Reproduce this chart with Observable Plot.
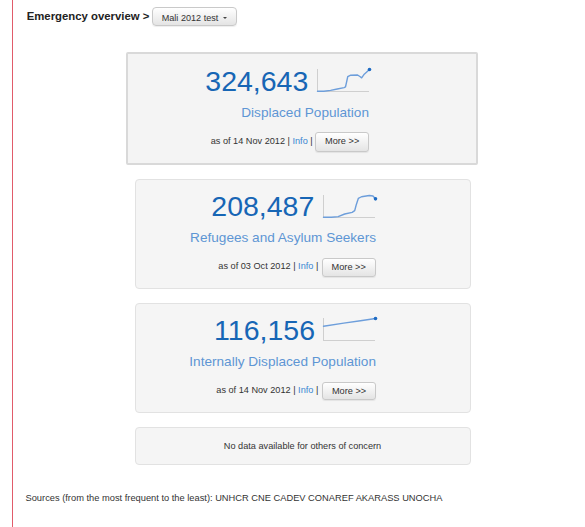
<!DOCTYPE html>
<html><head><meta charset="utf-8">
<script src="https://cdn.jsdelivr.net/npm/d3@7"></script>
<script src="https://cdn.jsdelivr.net/npm/@observablehq/plot@0.6"></script>
<style>
html,body{margin:0;padding:0;background:#fff;width:585px;height:527px;overflow:hidden;font-family:"Liberation Sans",Arial,sans-serif;}
#root{position:relative;width:585px;height:527px;}
.abs{position:absolute;white-space:nowrap;line-height:1;}
.box{position:absolute;box-sizing:border-box;background:#f5f5f5;border:1px solid #e2e2e2;border-radius:4px;}
.btn{position:absolute;box-sizing:border-box;border:1px solid #c9c9c9;border-radius:3px;background:linear-gradient(#ffffff,#e4e4e4);color:#333;text-align:center;box-shadow:0 1px 1px rgba(0,0,0,0.07);white-space:nowrap;}
.spark{position:absolute;}
</style></head><body><div id="root"></div>
<script>
// ---- data ----
const emergencyName = "Mali 2012 test";
const cardTitles = ["Displaced Population", "Refugees and Asylum Seekers", "Internally Displaced Population"];
const asOfDates = ["14 Nov 2012", "03 Oct 2012", "14 Nov 2012"];
const displacedDates = ["2012-03-01","2012-04-01","2012-05-05","2012-06-07","2012-07-11","2012-07-18","2012-07-29","2012-08-13","2012-09-16","2012-09-29","2012-10-06","2012-10-19","2012-11-14"];
const displacedValues = [3000, 4000, 16000, 36000, 58000, 68000, 218000, 240000, 244000, 218000, 201000, 256000, 324643];
const refugeeDates = ["2012-02-01","2012-03-09","2012-04-10","2012-05-11","2012-06-15","2012-06-27","2012-07-04","2012-07-14","2012-07-29","2012-09-04","2012-09-21","2012-10-03"];
const refugeeValues = [2000, 3000, 10000, 39000, 58000, 77000, 140000, 213000, 232000, 246000, 241000, 208487];
const idpDates = ["2012-04-20","2012-07-10","2012-09-15","2012-11-14"];
const idpValues = [75500, 92000, 104000, 116156];
const sources = ["UNHCR", "CNE", "CADEV", "CONAREF", "AKARASS", "UNOCHA"];
const noDataText = "No data available for others of concern";

// ---- helpers ----
const root = document.getElementById("root");
function add(cls, style, html) {
  const d = document.createElement("div");
  d.className = cls;
  d.setAttribute("style", style);
  if (html !== undefined) d.innerHTML = html;
  root.appendChild(d);
  return d;
}
const FS_BASE = 0.8465; // baseline offset factor for line-height:1
function textAt(html, fs, x, baseline, opts = {}) {
  const top = baseline - FS_BASE * fs;
  let s = `font-size:${fs}px;top:${top}px;`;
  if (opts.align === "right") s += `left:${x - 400}px;width:400px;text-align:right;`;
  else if (opts.align === "center") s += `left:${x - 200}px;width:400px;text-align:center;`;
  else s += `left:${x}px;`;
  if (opts.color) s += `color:${opts.color};`;
  if (opts.bold) s += `font-weight:bold;`;
  return add("abs", s, html);
}
function spark(dates, values, left, top) {
  const data = dates.map((d, i) => ({date: new Date(d), value: values[i]}));
  const p = Plot.plot({
    width: 57, height: 27,
    marginLeft: 2, marginRight: 3, marginTop: 3, marginBottom: 2,
    x: {type: "utc", axis: null},
    y: {domain: [0, d3.max(values)], axis: null},
    style: {background: "transparent", overflow: "visible"},
    marks: [
      Plot.ruleX([data[0].date], {stroke: "#cfcfcf", strokeWidth: 1}),
      Plot.ruleY([0], {stroke: "#cfcfcf", strokeWidth: 1}),
      Plot.line(data, {x: "date", y: "value", stroke: "#6d9edb", strokeWidth: 1.4}),
      Plot.dot([data[data.length - 1]], {x: "date", y: "value", r: 1.8, fill: "#1e6bc3"})
    ]
  });
  const wrap = add("spark", `left:${left}px;top:${top}px;`);
  wrap.appendChild(p);
}
const fmt = d3.format(",");

// ---- red margin line ----
add("abs", "left:12px;top:0;width:1px;height:527px;background:#e15b6a;");

// ---- header ----
textAt("Emergency overview &gt;", 11.35, 26.7, 20.6, {bold: true, color: "#222"});
add("btn", "left:151.7px;top:7.3px;width:85px;height:18.7px;border-radius:4px;");
textAt(emergencyName, 9.1, 161.7, 21.3, {color: "#333"});
add("abs", "left:222.5px;top:16.5px;width:0;height:0;border-left:2px solid transparent;border-right:2px solid transparent;border-top:2.5px solid #444;");

// ---- cards ----
const cards = [
  {box: [126, 52, 352, 113, 2], numR: 308.3, numB: 90.7, spark: [315, 66], labR: 369, labB: 117.4, dateR: 312.7, dateB: 145, btn: [315, 132.3, 54.3, 19.4]},
  {box: [134.5, 179, 336, 109.5, 1], numR: 314.3, numB: 215.7, spark: [321.3, 192], labR: 376, labB: 242.7, dateR: 318.3, dateB: 269.5, btn: [321.7, 258.3, 54, 18.4]},
  {box: [134.5, 303.3, 336, 110, 1], numR: 315, numB: 340, spark: [321.3, 315.3], labR: 376, labB: 366.7, dateR: 318.3, dateB: 393.5, btn: [322, 381.7, 54, 18.3]}
];
const series = [[displacedDates, displacedValues], [refugeeDates, refugeeValues], [idpDates, idpValues]];

cards.forEach((c, i) => {
  const [bx, by, bw, bh, bwid] = c.box;
  const extra = bwid === 2 ? "border:2px solid #d9d9d9;border-radius:2px;background:#f4f4f4;" : "";
  add("box", `left:${bx}px;top:${by}px;width:${bw}px;height:${bh}px;${extra}`);
  const [dates, values] = series[i];
  textAt(fmt(values[values.length - 1]), 28.5, c.numR, c.numB, {align: "right", color: "#1766b5"});
  spark(dates, values, c.spark[0], c.spark[1]);
  textAt(cardTitles[i], 13.6, c.labR, c.labB, {align: "right", color: "#5e96d4"});
  textAt(`as of ${asOfDates[i]} | <span style="color:#3a86d2">Info</span> |`, 9.16, c.dateR, c.dateB, {align: "right", color: "#333"});
  const [qx, qy, qw, qh] = c.btn;
  add("btn", `left:${qx}px;top:${qy}px;width:${qw}px;height:${qh}px;font-size:9.2px;line-height:${qh - 2}px;`, "More &gt;&gt;");
});

// ---- no data box ----
add("box", "left:134.5px;top:427.3px;width:336px;height:37.7px;");
textAt(noDataText, 9.16, 302.5, 450, {align: "center", color: "#333"});

// ---- sources ----
textAt("Sources (from the most frequent to the least): " + sources.join(" "), 9.3, 25.5, 502, {color: "#333"});
</script></body></html>
